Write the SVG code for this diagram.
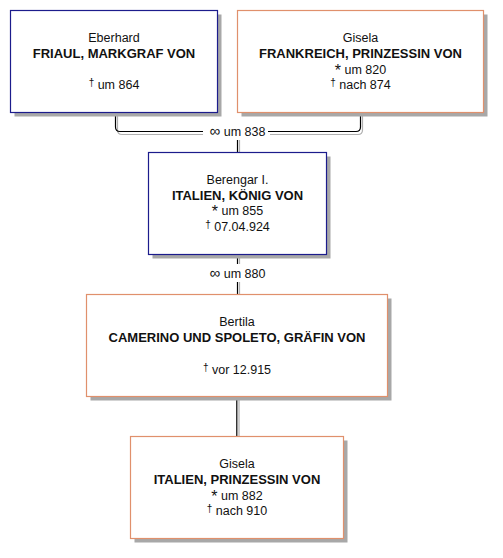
<svg xmlns="http://www.w3.org/2000/svg" width="503" height="558" viewBox="0 0 503 558">
<style>
  .box { fill: #ffffff; stroke-width: 1.2; }
  .male { stroke: #1c1c8c; }
  .female { stroke: #e0906c; }
  .sh { fill: none; stroke: #a8a8a8; stroke-width: 4; stroke-linejoin: miter; }
  text { font-family: "Liberation Sans", Arial, sans-serif; font-size: 12.5px; fill: #111; text-anchor: middle; }
  .b { font-weight: bold; font-size: 13px; }
  .sym { font-size: 10px; }
  .ast { font-size: 16px; }
  .inf { font-size: 15px; }
  .ln { fill: none; stroke: #000; stroke-width: 1.2; }
  .lns { fill: none; stroke: #b0b0b0; stroke-width: 1.2; }
</style>
<rect width="503" height="558" fill="#ffffff"/>
<g id="connectors">
  <path class="lns" d="M117.5,112.5 V130 Q117.5,134.5 122,134.5 H203"/>
  <path class="ln" d="M115.5,112.5 V127 Q115.5,131.5 120,131.5 H203"/>
  <path class="lns" d="M362.5,112.5 V130 Q362.5,134.5 358,134.5 H270"/>
  <path class="ln" d="M360.5,112.5 V127 Q360.5,131.5 356,131.5 H268"/>
  <text x="237.5" y="136"><tspan class="inf">∞</tspan> um 838</text>
  <path class="lns" d="M239.5,140 V152.5"/>
  <path class="ln" d="M237.5,140 V152.5"/>
  <path class="lns" d="M239.5,256.5 V264"/>
  <path class="ln" d="M237.5,254.5 V264"/>
  <text x="237.5" y="278"><tspan class="inf">∞</tspan> um 880</text>
  <path class="lns" d="M239.5,282 V294.5"/>
  <path class="ln" d="M237.5,282 V294.5"/>
  <path class="lns" d="M239,398.5 V436.5"/>
  <path class="ln" d="M236.8,396.5 V436.5"/>
</g>
<g id="eberhard">
  <path class="sh" d="M219.5,14.5 V114.5 H14.5"/>
  <rect class="box male" x="10.5" y="10.5" width="207" height="102"/>
  <text x="114" y="42">Eberhard</text>
  <text class="b" x="114" y="57.5">FRIAUL, MARKGRAF VON</text>
  <text x="114" y="89"><tspan class="sym" dy="-3">†</tspan><tspan dy="3"> um 864</tspan></text>
</g>
<g id="gisela1">
  <path class="sh" d="M485.5,14.5 V114.5 H241.5"/>
  <rect class="box female" x="237.5" y="10.5" width="246" height="102"/>
  <text x="360.5" y="42">Gisela</text>
  <text class="b" x="360.5" y="57.5">FRANKREICH, PRINZESSIN VON</text>
  <text x="360.5" y="73.5"><tspan class="ast" dy="2">*</tspan><tspan dy="-2"> um 820</tspan></text>
  <text x="360.5" y="88.5"><tspan class="sym" dy="-3">†</tspan><tspan dy="3"> nach 874</tspan></text>
</g>
<g id="berengar">
  <path class="sh" d="M328.5,156.5 V256.5 H152.5"/>
  <rect class="box male" x="148.5" y="152.5" width="178" height="102"/>
  <text x="237.5" y="183.5">Berengar I.</text>
  <text class="b" x="237.5" y="199.5">ITALIEN, KÖNIG VON</text>
  <text x="237.5" y="215"><tspan class="ast" dy="2">*</tspan><tspan dy="-2"> um 855</tspan></text>
  <text x="237.5" y="230.5"><tspan class="sym" dy="-3">†</tspan><tspan dy="3">  07.04.924</tspan></text>
</g>
<g id="bertila">
  <path class="sh" d="M389.5,298.5 V398.5 H90.5"/>
  <rect class="box female" x="86.5" y="294.5" width="301" height="102"/>
  <text x="237" y="326">Bertila</text>
  <text class="b" x="237" y="342">CAMERINO UND SPOLETO, GRÄFIN VON</text>
  <text x="237" y="373.5"><tspan class="sym" dy="-3">†</tspan><tspan dy="3"> vor 12.915</tspan></text>
</g>
<g id="gisela2">
  <path class="sh" d="M345.5,440.5 V540.5 H134.5"/>
  <rect class="box female" x="130.5" y="436.5" width="213" height="102"/>
  <text x="237" y="468">Gisela</text>
  <text class="b" x="237" y="483.5">ITALIEN, PRINZESSIN VON</text>
  <text x="237" y="499.5"><tspan class="ast" dy="2">*</tspan><tspan dy="-2"> um 882</tspan></text>
  <text x="237" y="514.5"><tspan class="sym" dy="-3">†</tspan><tspan dy="3"> nach 910</tspan></text>
</g>
</svg>
